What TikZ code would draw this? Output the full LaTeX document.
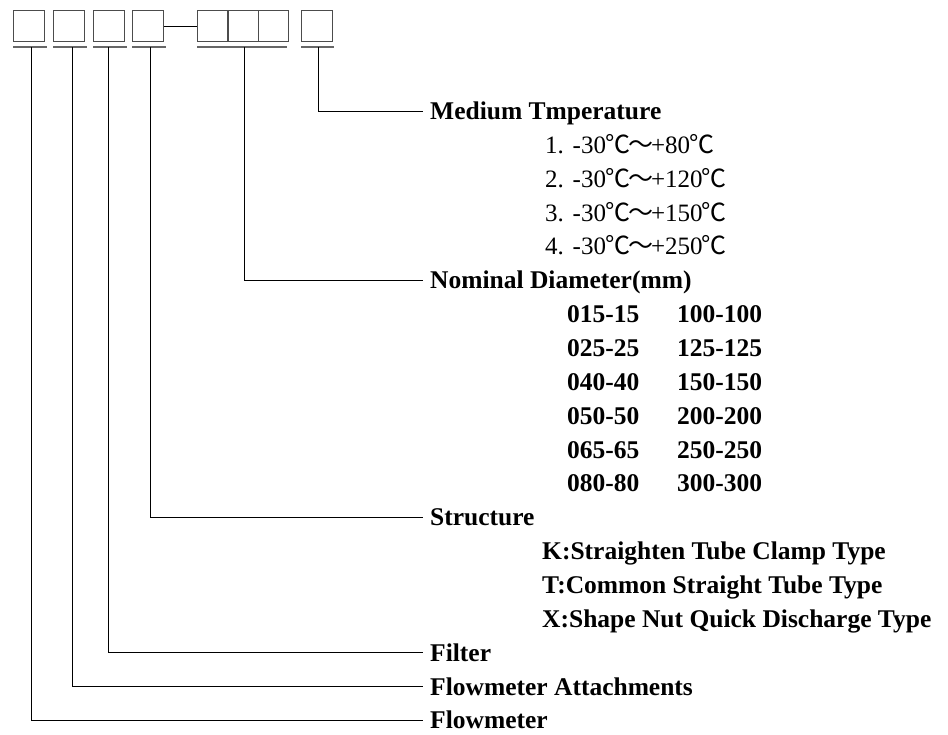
\documentclass[tikz,border=0pt]{standalone}
\usepackage{fontspec}
\setmainfont{Liberation Serif}
\newfontfamily\cjk{Noto Sans CJK SC}
\usetikzlibrary{positioning}
\usetikzlibrary{calc}

\newcommand{\degc}{{\cjk\kern-1pt ℃}}
\newcommand{\wave}{{\cjk\kern-2pt～\kern-2pt}}

\begin{document}
\begin{tikzpicture}[x=1pt, y=-1pt,
        cell/.style={draw=black!70, line width=1.4pt, minimum width=#1, minimum height=31pt, inner sep=0pt, anchor=north west},
        cell/.default=31pt,
        uline/.style={draw=black!60, line width=1.2pt},
        link/.style={draw=black, line width=0.9pt},
        lbl/.style={anchor=west, inner xsep=7pt, inner ysep=0pt, text height=17pt, text depth=0pt, font=\fontsize{25.5}{30}\selectfont\bfseries},
        item/.style={lbl, inner xsep=0pt},
        temp/.style={item, font=\fontsize{25}{30}\selectfont}]
    \useasboundingbox (0,0) rectangle (948,734);

    % code boxes
    \node[cell] (b1) at (13,10) {};
    \node[cell] (b2) at (53,10) {};
    \node[cell] (b3) at (92.5,10) {};
    \node[cell] (b4) at (132,10) {};
    \node[cell=30.3pt] (d1) at (197,10) {};
    \node[cell=30.3pt] (d2) at (227.3,10) {};
    \node[cell=30.3pt] (d3) at (257.6,10) {};
    \node[cell] (b5) at (301,10) {};
    \draw[link] (b4.east) -- (d1.west);

    % underlines
    \draw[uline] (13,47) -- (47,47);
    \draw[uline] (53,47) -- (87,47);
    \draw[uline] (93,47) -- (127,47);
    \draw[uline] (132,47) -- (166,47);
    \draw[uline] (197,47) -- (287,47);
    \draw[uline] (301,47) -- (334,47);

    \coordinate (s1) at (31,47);
    \coordinate (s2) at (72,47);
    \coordinate (s3) at (108,47);
    \coordinate (s4) at (150,47);
    \coordinate (s5) at (244,47);
    \coordinate (s6) at (318,47);

    % headings
    \node[lbl] (temp) at (423,111) {Medium Tmperature};
    \node[lbl] (dia) at (423,280.3) {Nominal Diameter(mm)};
    \node[lbl] (struct) at (423,517.2) {Structure};
    \node[lbl] (filter) at (423,652.6) {Filter};
    \node[lbl] (attach) at (423,686.5) {Flowmeter Attachments};
    \node[lbl] (flow) at (423,720.3) {Flowmeter};

    % medium temperature
    \node[temp] (t1) at (545,144.9) {1.\hspace{0.35em}-30\degc\wave+80\degc};
    \node[temp] (t2) at (545,178.7) {2.\hspace{0.35em}-30\degc\wave+120\degc};
    \node[temp] (t3) at (545,212.6) {3.\hspace{0.35em}-30\degc\wave+150\degc};
    \node[temp] (t4) at (545,246.4) {4.\hspace{0.35em}-30\degc\wave+250\degc};

    % nominal diameter
    \node[item] (n1) at (567,314.1) {015-15};
    \node[item] (n2) at (567,348.0) {025-25};
    \node[item] (n3) at (567,381.8) {040-40};
    \node[item] (n4) at (567,415.7) {050-50};
    \node[item] (n5) at (567,449.5) {065-65};
    \node[item] (n6) at (567,483.4) {080-80};
    \node[item] (m1) at (677,314.1) {100-100};
    \node[item] (m2) at (677,348.0) {125-125};
    \node[item] (m3) at (677,381.8) {150-150};
    \node[item] (m4) at (677,415.7) {200-200};
    \node[item] (m5) at (677,449.5) {250-250};
    \node[item] (m6) at (677,483.4) {300-300};

    % structure
    \node[item] (k) at (542,551.1) {K:Straighten Tube Clamp Type};
    \node[item] (t) at (542,584.9) {T:Common Straight Tube Type};
    \node[item] (x) at (542,618.8) {X:Shape Nut Quick Discharge Type};

    \draw[link] (s1) |- (flow.west);
    \draw[link] (s2) |- (attach.west);
    \draw[link] (s3) |- (filter.west);
    \draw[link] (s4) |- (struct.west);
    \draw[link] (s5) |- (dia.west);
    \draw[link] (s6) |- (temp.west);
\end{tikzpicture}
\end{document}
